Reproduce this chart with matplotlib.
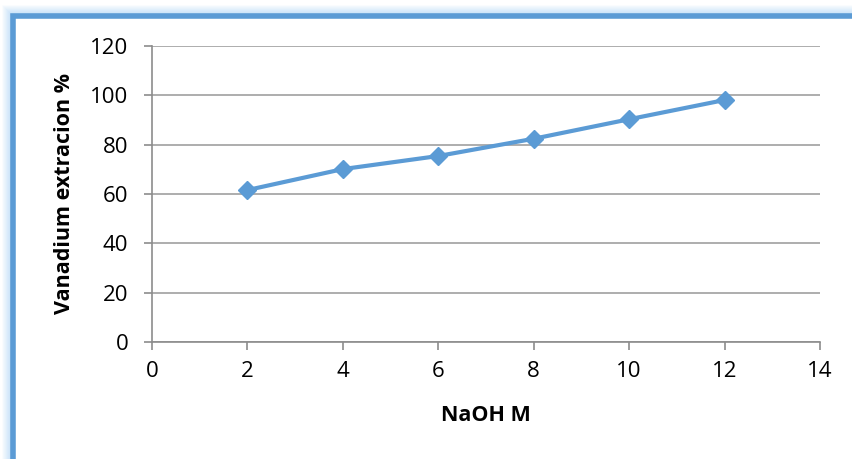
import numpy as np
import matplotlib.pyplot as plt
from matplotlib.patches import Rectangle

# Datos
naoh = [2, 4, 6, 8, 10, 12]
extraccion = [61.6, 70.1, 75.4, 82.4, 90.3, 98.1]
xticks = [0, 2, 4, 6, 8, 10, 12, 14]
yticks = [0, 20, 40, 60, 80, 100, 120]

W, H = 853, 459
plt.rcParams['font.family'] = ['Open Sans', 'DejaVu Sans']
fig = plt.figure(figsize=(W / 100, H / 100), dpi=100)

# Marco azul con brillo (cortado a la derecha y abajo)
for i, a in enumerate(np.linspace(0.05, 0.45, 10)):
    off = 10 - i
    fig.patches.append(Rectangle(((13 - off) / W, -0.1), 1.2, (H - 16 + off) / H + 0.1,
                                 transform=fig.transFigure, fill=False, zorder=-5,
                                 edgecolor='#9fcdf5', lw=1.2, alpha=a))
fig.patches.append(Rectangle((13 / W, -0.1), 1.2, (H - 16) / H + 0.1,
                             transform=fig.transFigure, facecolor='white', zorder=-4,
                             edgecolor='#5b9bd5', lw=4))

ax = fig.add_axes([152 / W, 1 - 342 / H, (820 - 152) / W, (342 - 46) / H])
ax.patch.set_alpha(0)
ax.plot(naoh, extraccion, '-D', color='#5b9bd5', lw=3, ms=9)

ax.set_xlim(0, 14)
ax.set_ylim(0, 120)
ax.set_xticks(xticks)
ax.set_yticks(yticks)
ax.grid(axis='y', color='#a0a0a0', lw=1.2)
ax.set_axisbelow(True)
for s in ['top', 'right']:
    ax.spines[s].set_visible(False)
for s in ['left', 'bottom']:
    ax.spines[s].set_color('#8c8c8c')
    ax.spines[s].set_linewidth(1.2)
ax.tick_params(colors='#8c8c8c', labelcolor='black', labelsize=16, length=6, width=1.2)
ax.tick_params(axis='y', pad=11)
ax.tick_params(axis='x', pad=8)
ax.set_xlabel('NaOH M', fontsize=15.5, fontweight='bold', labelpad=16)
ax.set_ylabel('Vanadium extracion %', fontsize=15.5, fontweight='bold', labelpad=11)

fig.savefig('out.png', dpi=100)
